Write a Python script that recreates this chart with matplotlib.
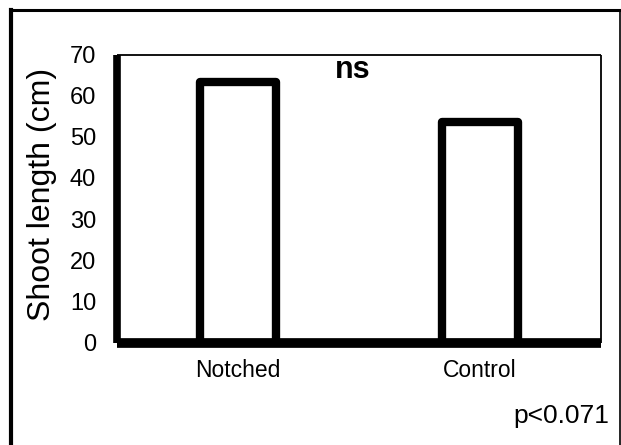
import matplotlib.pyplot as plt
from matplotlib.lines import Line2D

# Shoot length for notched vs. control plants
groups = ['Notched', 'Control']
shoot_length = [63.2, 53.7]
y_ticks = [0, 10, 20, 30, 40, 50, 60, 70]
sig_label = 'ns'
p_label = 'p<0.071'

plt.rcParams['font.family'] = ['Liberation Sans', 'DejaVu Sans']

fig = plt.figure(figsize=(6.21, 4.45), dpi=100)
ax = fig.add_axes([0.1884, 0.2303, 0.7794, 0.6472])

x = range(len(groups))
ax.bar(x, shoot_length, width=0.312, facecolor='white', edgecolor='black',
       linewidth=6, joinstyle='round', zorder=3)

ax.set_xlim(-0.5, 1.5)
ax.set_ylim(0, 70)
ax.set_yticks(y_ticks)
ax.set_xticks(list(x))
ax.set_xticklabels(groups, fontsize=16.5)
ax.tick_params(axis='y', length=0, pad=15, labelsize=17)
ax.tick_params(axis='x', length=0, pad=12)

ax.spines['left'].set_linewidth(5.5)
ax.spines['bottom'].set_linewidth(7)
ax.spines['top'].set_linewidth(1.3)
ax.spines['right'].set_linewidth(1.3)
ax.spines['bottom'].set_zorder(4)
for sp in ax.spines.values():
    sp.set_capstyle('butt')

ax.text(0.475, 64.3, sig_label, ha='center', va='baseline',
        fontsize=22, fontweight='bold')

fig.text(42 / 621, 1 - 194.5 / 445, 'Shoot length (cm)', rotation=90,
         ha='center', va='center', fontsize=23)
fig.text(609 / 621, 1 - 423 / 445, p_label, ha='right', va='baseline',
         fontsize=19)

# frame around the whole figure (open at the bottom)
fig.add_artist(Line2D([11 / 621, 11 / 621], [0, 1 - 10 / 445],
                      color='black', linewidth=3, transform=fig.transFigure))
fig.add_artist(Line2D([11 / 621, 620 / 621], [1 - 10 / 445, 1 - 10 / 445],
                      color='black', linewidth=2.2, transform=fig.transFigure))
fig.add_artist(Line2D([620 / 621, 620 / 621], [0, 1 - 10 / 445],
                      color='black', linewidth=1.2, transform=fig.transFigure))

fig.savefig('out.png', dpi=100)
